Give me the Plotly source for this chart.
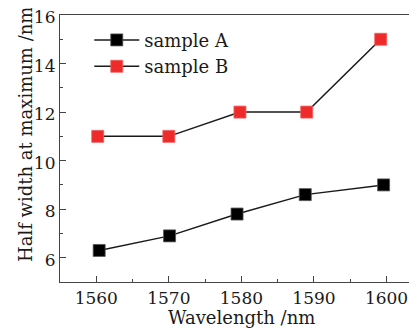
import plotly.graph_objects as go

wavelength_a = [1560.4, 1570.1, 1579.4, 1588.8, 1599.6]
width_a = [6.3, 6.9, 7.8, 8.6, 9.0]
wavelength_b = [1560.2, 1570.0, 1579.8, 1589.0, 1599.2]
width_b = [11, 11, 12, 12, 15]
x_ticks = [1560, 1570, 1580, 1590, 1600]
y_ticks = [6, 8, 10, 12, 14, 16]

FONT = "DejaVu Serif"

# the page body has an 8px default margin; compensate so the plot area
# lands at the same spot as in the reference
fig = go.Figure()
fig.add_trace(go.Scatter(
    x=wavelength_a, y=width_a, name="sample A", mode="lines+markers",
    line=dict(color="#1a1a1a", width=1.5),
    marker=dict(symbol="square", size=12, color="#000000",
                line=dict(color="#555555", width=0.8)),
))
fig.add_trace(go.Scatter(
    x=wavelength_b, y=width_b, name="sample B", mode="lines+markers",
    line=dict(color="#1a1a1a", width=1.5),
    marker=dict(symbol="square", size=12, color="#EE2A2A",
                line=dict(color="#f06060", width=0.8)),
))

fig.update_layout(
    width=409, height=325,
    margin=dict(l=52, r=0, t=7, b=51, autoexpand=False),
    paper_bgcolor="white", plot_bgcolor="white",
    font=dict(family=FONT, size=17, color="#1a1a1a"),
    showlegend=True,
    legend=dict(x=0.082, y=0.975, xanchor="left", yanchor="top",
                bgcolor="rgba(0,0,0,0)", font=dict(size=18, family=FONT),
                itemwidth=45, tracegroupgap=0),
    xaxis=dict(range=[1555, 1604.2], tickvals=x_ticks, ticks="inside",
               ticklen=6, tickwidth=1, tickcolor="#444", automargin=False,
               ticklabeloverflow="allow",
               minor=dict(dtick=5, ticks="inside", ticklen=3, tickcolor="#444"),
               showline=True, linecolor="#444", linewidth=1.2, mirror=True,
               showgrid=False, zeroline=False,
               tickfont=dict(size=17, family=FONT)),
    yaxis=dict(range=[5, 16], tickvals=y_ticks, ticks="inside",
               ticklen=6, tickwidth=1, tickcolor="#444", automargin=False,
               ticklabeloverflow="allow", ticklabelshift=2,
               minor=dict(dtick=1, ticks="inside", ticklen=3, tickcolor="#444"),
               showline=True, linecolor="#444", linewidth=1.2, mirror=False,
               showgrid=False, zeroline=False,
               tickfont=dict(size=17, family=FONT)),
    annotations=[
        dict(text="Wavelength /nm", xref="paper", yref="paper",
             x=(241 - 60) / 357, y=(282 - 318) / 267, xanchor="center", yanchor="middle",
             showarrow=False, font=dict(size=18, family=FONT)),
        dict(text="Half width at maximum /nm", xref="paper", yref="paper",
             x=(25 - 60) / 357, y=(282 - 135) / 267, xanchor="center", yanchor="middle",
             textangle=-90, showarrow=False, font=dict(size=18, family=FONT)),
    ],
)

fig.write_html("out.html")
